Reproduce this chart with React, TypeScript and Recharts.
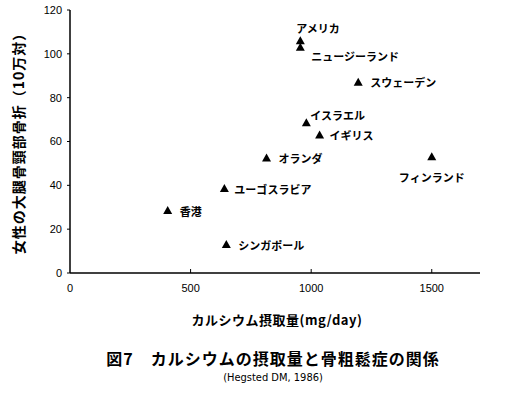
import React from 'react';
import { ScatterChart, Scatter, XAxis, YAxis } from 'recharts';

const countries = ['アメリカ', 'ニュージーランド', 'スウェーデン', 'イスラエル', 'イギリス', 'オランダ', 'フィンランド', 'ユーゴスラビア', '香港', 'シンガポール'];
const calcium = [955, 955, 1195, 980, 1035, 815, 1500, 640, 405, 648];
const fracture = [106, 103, 87, 68.5, 63, 52.5, 53, 38.5, 28.5, 13];
const xTicks = [0, 500, 1000, 1500];
const yTicks = [0, 20, 40, 60, 80, 100, 120];

const xTitle = 'カルシウム摂取量(mg/day)';
const yTitle = '女性の大腿骨頸部骨折（10万対）';
const chartTitle = '図7\u3000カルシウムの摂取量と骨粗鬆症の関係';
const chartSource = '(Hegsted DM, 1986)';

const labelPlacement: Record<string, { dx: number; dy: number; anchor: 'start' | 'middle' | 'end' }> = {
  'アメリカ': { dx: -4, dy: -13, anchor: 'start' },
  'ニュージーランド': { dx: 11, dy: 9, anchor: 'start' },
  'スウェーデン': { dx: 12, dy: 0, anchor: 'start' },
  'イスラエル': { dx: 4, dy: -8, anchor: 'start' },
  'イギリス': { dx: 10, dy: 0, anchor: 'start' },
  'オランダ': { dx: 12, dy: 0, anchor: 'start' },
  'フィンランド': { dx: 0, dy: 20, anchor: 'middle' },
  'ユーゴスラビア': { dx: 10, dy: 0, anchor: 'start' },
  '香港': { dx: 12, dy: 0, anchor: 'start' },
  'シンガポール': { dx: 12, dy: 0, anchor: 'start' },
};

const data = countries.map((name, i) => ({ name, x: calcium[i], y: fracture[i] }));

const JP = '"Noto Sans CJK JP", "Noto Sans", sans-serif';
const NUM = '"Liberation Sans", Arial, sans-serif';

const TriangleShape = (props: any) => {
  const { cx, cy, payload } = props;
  if (cx == null || cy == null) return null;
  const p = labelPlacement[payload.name] || { dx: 10, dy: 0, anchor: 'start' };
  return (
    <g>
      <path d={`M${cx},${cy - 4.5}L${cx - 4.5},${cy + 3.5}L${cx + 4.5},${cy + 3.5}Z`} fill="#000" />
      <text
        x={cx + p.dx}
        y={cy + p.dy}
        textAnchor={p.anchor}
        dominantBaseline="central"
        fontFamily={JP}
        fontWeight={700}
        fontSize={11}
        fill="#000"
      >
        {payload.name}
      </text>
    </g>
  );
};

const XTick = (props: any) => {
  const { x, y, payload } = props;
  return (
    <g>
      {payload.value !== 0 && <line x1={x} x2={x} y1={y} y2={y - 4} stroke="#000" strokeWidth={1} />}
      <text x={x} y={y + 15} textAnchor="middle" dominantBaseline="central" fontFamily={NUM} fontSize={11} fill="#000">
        {payload.value}
      </text>
    </g>
  );
};

export default function App() {
  return (
    <div style={{ position: 'absolute', left: 0, top: 0, width: 509, height: 396, background: '#fff' }}>
      <ScatterChart width={509} height={396} margin={{ top: 10, right: 29, bottom: 93, left: 0 }}>
        <XAxis
          type="number"
          dataKey="x"
          domain={[0, 1700]}
          ticks={xTicks}
          height={30}
          tickSize={0}
          tickMargin={0}
          tickLine={false}
          axisLine={{ stroke: '#000', strokeWidth: 1.5 }}
          tick={<XTick />}
          interval={0}
        />
        <YAxis
          type="number"
          dataKey="y"
          domain={[0, 120]}
          ticks={yTicks}
          width={70}
          tickSize={3}
          tickMargin={5}
          tickLine={{ stroke: '#000' }}
          axisLine={{ stroke: '#000', strokeWidth: 1.5 }}
          tick={{ fill: '#000', fontSize: 11, fontFamily: NUM }}
          interval={0}
        />
        <Scatter data={data} shape={<TriangleShape />} isAnimationActive={false} />
      </ScatterChart>
      <div style={{ position: 'absolute', left: 0, top: 0, width: 509, height: 396, pointerEvents: 'none' }}>
        <div
          style={{
            position: 'absolute', left: 18, top: 140, transform: 'translate(-50%, -50%) rotate(-90deg)',
            whiteSpace: 'nowrap', fontFamily: JP, fontWeight: 700, fontSize: 14, letterSpacing: 1,
            lineHeight: '16px', color: '#000',
          }}
        >
          {yTitle}
        </div>
        <div
          style={{
            position: 'absolute', left: 277, top: 320, transform: 'translate(-50%, -50%)',
            whiteSpace: 'nowrap', fontFamily: JP, fontWeight: 700, fontSize: 13, letterSpacing: 0.5,
            lineHeight: '16px', color: '#000',
          }}
        >
          {xTitle}
        </div>
        <div
          style={{
            position: 'absolute', left: 273, top: 358, transform: 'translate(-50%, -50%)',
            whiteSpace: 'nowrap', fontFamily: JP, fontWeight: 700, fontSize: 16, letterSpacing: 1,
            lineHeight: '20px', color: '#000',
          }}
        >
          {chartTitle}
        </div>
        <div
          style={{
            position: 'absolute', left: 273, top: 378, transform: 'translate(-50%, -50%)',
            whiteSpace: 'nowrap', fontFamily: '"Liberation Sans Narrow", "Arial Narrow", "DejaVu Sans Condensed", sans-serif',
            fontSize: 11, lineHeight: '14px', color: '#000',
          }}
        >
          {chartSource}
        </div>
      </div>
    </div>
  );
}
